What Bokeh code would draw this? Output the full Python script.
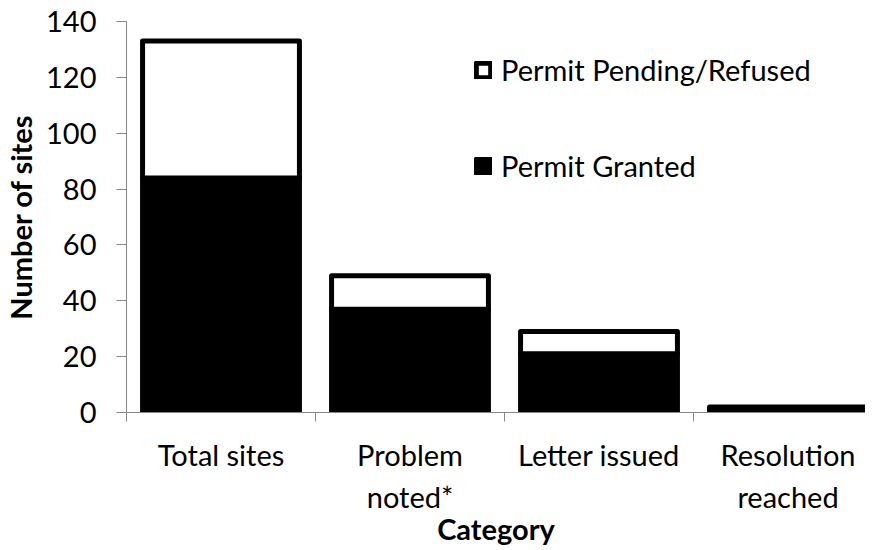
from bokeh.plotting import figure
from bokeh.models import FixedTicker, Legend, LegendItem, Range1d, ColumnDataSource
from bokeh.embed import file_html
from bokeh.resources import INLINE

categories = ["Total sites", "Problem noted*", "Letter issued", "Resolution reached"]
tick_labels = ["Total sites", "Problem\nnoted*", "Letter issued", "Resolution\nreached"]
granted = [84, 37, 21, 1]
pending = [49, 12, 8, 1]
y_ticks = [0, 20, 40, 60, 80, 100, 120, 140]

centers = [i + 0.5 for i in range(len(categories))]
totals = [g + q for g, q in zip(granted, pending)]
source = ColumnDataSource(dict(x=centers, granted=granted, total=totals, cat=categories))

FONT = "Lato"
GRAY = "#868686"
FS = "29px"

p = figure(frame_width=739, frame_height=391,
           x_range=Range1d(0, 3.91), y_range=Range1d(0, 140),
           output_backend="svg", toolbar_location=None,
           min_border_left=120, min_border_top=21, min_border_right=0, min_border_bottom=0)
p.outline_line_color = None
p.xgrid.visible = False
p.ygrid.visible = False

r_g = p.vbar(x="x", width=0.83, bottom=0, top="granted", source=source,
             fill_color="black", line_color="black", line_width=5, line_join="round")
r_p = p.vbar(x="x", width=0.83, bottom="granted", top="total", source=source,
             fill_color="white", line_color="black", line_width=5, line_join="round")

# y axis
ya = p.yaxis[0]
ya.ticker = FixedTicker(ticks=y_ticks)
ya.axis_line_color = GRAY
ya.major_tick_line_color = GRAY
ya.major_tick_out = 10
ya.major_tick_in = 0
ya.minor_tick_line_color = None
ya.major_label_standoff = 20
ya.major_label_text_font = FONT
ya.major_label_text_font_size = FS
ya.major_label_text_color = "black"
ya.axis_label = "Number of sites"
ya.axis_label_text_font = FONT
ya.axis_label_text_font_style = "bold"
ya.axis_label_text_font_size = FS
ya.axis_label_text_color = "black"
ya.axis_label_standoff = 5

# x axis: labels at centres, ticks at category boundaries
xa = p.xaxis[0]
xa.ticker = FixedTicker(ticks=centers, minor_ticks=[float(i) for i in range(len(categories))])
xa.major_label_overrides = {c: t for c, t in zip(centers, tick_labels)}
xa.axis_line_color = GRAY
xa.major_tick_line_color = None
xa.major_tick_out = 0
xa.major_tick_in = 0
xa.minor_tick_line_color = GRAY
xa.minor_tick_out = 9
xa.minor_tick_in = 0
xa.major_label_standoff = 15
xa.major_label_text_font = FONT
xa.major_label_text_font_size = FS
xa.major_label_text_color = "black"
xa.axis_label = "Category"
xa.axis_label_text_font = FONT
xa.axis_label_text_font_style = "bold"
xa.axis_label_text_font_size = FS
xa.axis_label_text_color = "black"
xa.axis_label_standoff = -6

legend = Legend(items=[LegendItem(label="Permit Pending/Refused", renderers=[r_p]),
                       LegendItem(label="Permit Granted", renderers=[r_g])],
                location=(348, 229), padding=0, margin=0, spacing=61,
                glyph_width=18, glyph_height=18, label_height=22, label_standoff=9,
                border_line_color=None, background_fill_alpha=0,
                label_text_font=FONT, label_text_font_size=FS, label_text_color="black")
p.add_layout(legend)

open("out.html", "w").write(file_html(p, INLINE))
